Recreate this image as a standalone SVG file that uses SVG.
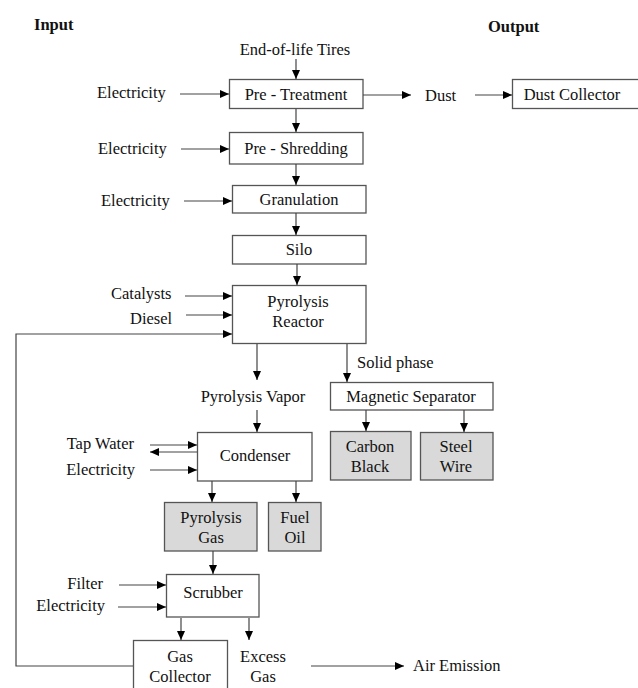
<svg xmlns="http://www.w3.org/2000/svg" width="638" height="688" viewBox="0 0 638 688">
<defs>
<marker id="ah" markerUnits="userSpaceOnUse" markerWidth="9" markerHeight="8" refX="9" refY="4" orient="auto">
<path d="M0,0 L9,4 L0,8 z" fill="#000"/>
</marker>
<style>
text{font-family:"Liberation Serif","Times New Roman",serif;font-size:16.5px;fill:#111;}
.t{font-weight:bold;font-size:16.5px;}
.m{text-anchor:middle;}
.e{text-anchor:end;}
.b{fill:#fff;stroke:#555;stroke-width:1.3;}
.g{fill:#d9d9d9;stroke:#555;stroke-width:1.3;}
.c line,.c polyline{stroke:#444;stroke-width:1.2;fill:none;}
.a{marker-end:url(#ah);}
</style>
</defs>
<rect width="638" height="688" fill="#fff"/>

<g id="titles">
<text class="t" x="34" y="30">Input</text>
<text class="t" x="488" y="32">Output</text>
</g>

<g id="labels">
<text class="m" x="295" y="55">End-of-life Tires</text>
<text x="97" y="98">Electricity</text>
<text x="98" y="154">Electricity</text>
<text x="101" y="206">Electricity</text>
<text x="425" y="101">Dust</text>
<text x="111" y="299">Catalysts</text>
<text x="130" y="324">Diesel</text>
<text x="357" y="368">Solid phase</text>
<text class="m" x="253" y="402">Pyrolysis Vapor</text>
<text class="e" x="134" y="449">Tap Water</text>
<text class="e" x="135" y="475">Electricity</text>
<text class="e" x="103" y="589">Filter</text>
<text class="e" x="105" y="611">Electricity</text>
<text class="m" x="263" y="662">Excess</text>
<text class="m" x="263" y="682">Gas</text>
<text x="413" y="671">Air Emission</text>
</g>

<g id="pretreatment"><rect class="b" x="229.5" y="79.5" width="133.5" height="29"/><text class="m" x="296" y="100">Pre - Treatment</text></g>
<g id="dustcollector"><rect class="b" x="512.5" y="79.5" width="130" height="29"/><text class="m" x="572" y="100">Dust Collector</text></g>
<g id="preshredding"><rect class="b" x="229.5" y="132.5" width="133.5" height="31.5"/><text class="m" x="296" y="154">Pre - Shredding</text></g>
<g id="granulation"><rect class="b" x="232.5" y="185.5" width="133.5" height="27.5"/><text class="m" x="299" y="205">Granulation</text></g>
<g id="silo"><rect class="b" x="232.5" y="235.5" width="133.5" height="28.5"/><text class="m" x="299" y="255">Silo</text></g>
<g id="reactor"><rect class="b" x="232.5" y="285.5" width="133.5" height="58"/><text class="m" x="298" y="307">Pyrolysis</text><text class="m" x="298" y="327">Reactor</text></g>
<g id="magsep"><rect class="b" x="330.5" y="382.5" width="162.5" height="27.5"/><text class="m" x="411" y="402">Magnetic Separator</text></g>
<g id="carbonblack"><rect class="g" x="330.5" y="431.5" width="80.5" height="48.5"/><text class="m" x="370" y="452">Carbon</text><text class="m" x="370" y="472">Black</text></g>
<g id="steelwire"><rect class="g" x="420.5" y="432.5" width="72.5" height="47.5"/><text class="m" x="456" y="452">Steel</text><text class="m" x="456" y="472">Wire</text></g>
<g id="condenser"><rect class="b" x="197.5" y="432.5" width="114.5" height="48.5"/><text class="m" x="255" y="461">Condenser</text></g>
<g id="pyrogas"><rect class="g" x="164.5" y="502.5" width="92.5" height="48.5"/><text class="m" x="211" y="523">Pyrolysis</text><text class="m" x="211" y="543">Gas</text></g>
<g id="fueloil"><rect class="g" x="268.5" y="502.5" width="52.5" height="48.5"/><text class="m" x="295" y="523">Fuel</text><text class="m" x="295" y="543">Oil</text></g>
<g id="scrubber"><rect class="b" x="166.5" y="574.5" width="92.5" height="42.5"/><text class="m" x="213" y="598">Scrubber</text></g>
<g id="gascollector"><rect class="b" x="133.5" y="640.5" width="94" height="60"/><text class="m" x="180" y="662">Gas</text><text class="m" x="180" y="682">Collector</text></g>

<g id="connectors" class="c">
<line class="a" x1="296" y1="59" x2="296" y2="79"/>
<line class="a" x1="180" y1="94" x2="229" y2="94"/>
<line class="a" x1="363" y1="95" x2="411" y2="95"/>
<line class="a" x1="475" y1="95" x2="512" y2="95"/>
<line class="a" x1="296" y1="109" x2="296" y2="132"/>
<line class="a" x1="181" y1="149" x2="229" y2="149"/>
<line class="a" x1="296" y1="164" x2="296" y2="185"/>
<line class="a" x1="184" y1="201" x2="232" y2="201"/>
<line class="a" x1="296" y1="213" x2="296" y2="235"/>
<line class="a" x1="297" y1="264" x2="297" y2="285"/>
<line class="a" x1="185" y1="296" x2="232" y2="296"/>
<line class="a" x1="186" y1="315" x2="232" y2="315"/>
<polyline class="a" points="133,666 16,666 16,334 232,334"/>
<line class="a" x1="257" y1="344" x2="257" y2="380"/>
<line class="a" x1="347" y1="344" x2="347" y2="382"/>
<line class="a" x1="257" y1="410" x2="257" y2="432"/>
<line class="a" x1="366" y1="410" x2="366" y2="431"/>
<line class="a" x1="464" y1="410" x2="464" y2="432"/>
<line class="a" x1="150" y1="445" x2="197" y2="445"/>
<line class="a" x1="197" y1="452" x2="150" y2="452"/>
<line class="a" x1="150" y1="470" x2="197" y2="470"/>
<line class="a" x1="212" y1="481" x2="212" y2="502"/>
<line class="a" x1="296" y1="481" x2="296" y2="502"/>
<line class="a" x1="213" y1="551" x2="213" y2="574"/>
<line class="a" x1="119" y1="585" x2="166" y2="585"/>
<line class="a" x1="118" y1="607" x2="166" y2="607"/>
<line class="a" x1="181" y1="618" x2="181" y2="640"/>
<line class="a" x1="249" y1="618" x2="249" y2="640"/>
<line class="a" x1="311" y1="666" x2="404" y2="666"/>
</g>
</svg>
